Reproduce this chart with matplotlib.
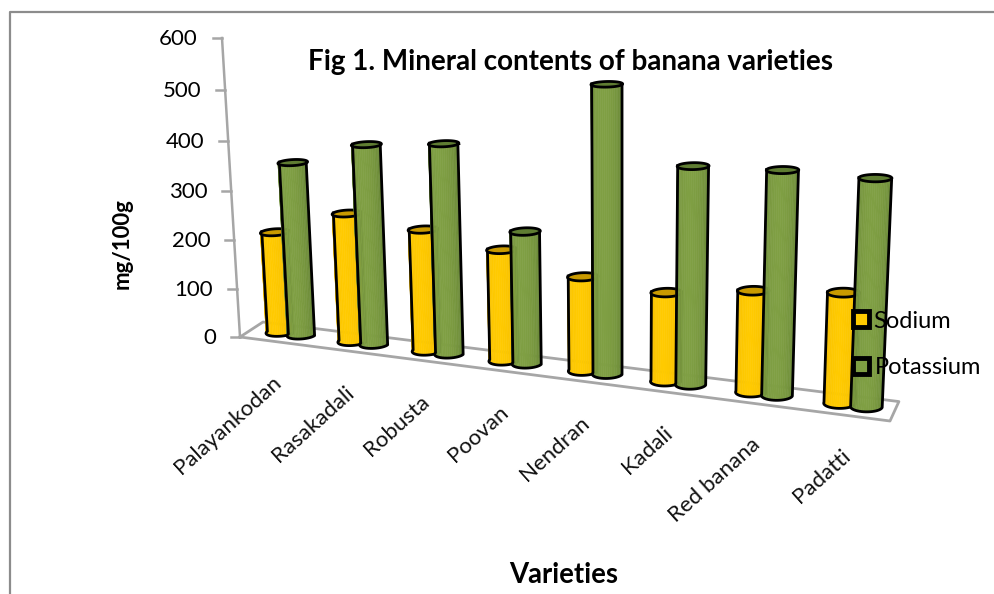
import numpy as np
import matplotlib
matplotlib.use('Agg')
import matplotlib.pyplot as plt
from matplotlib.collections import PolyCollection

varieties = ['Palayankodan', 'Rasakadali', 'Robusta', 'Poovan', 'Nendran', 'Kadali', 'Red banana', 'Padatti']
sodium = [208, 261, 244, 220, 184, 171, 192, 206]
potassium = [353, 401, 415, 260, 548, 411, 417, 416]
value_ticks = [0, 100, 200, 300, 400, 500, 600]
series = [('Sodium', sodium, '#e3a900', '#ffca00', '#c99a00'),
          ('Potassium', potassium, '#5c7a30', '#7f9f43', '#5f7d32')]

plt.rcParams['font.family'] = ['Lato', 'DejaVu Sans']

# corners of the chart box on the page
x00, y00 = 240, 337
x10, y10 = 890, 421
x01, y01 = 263, 322
xtop, ytop = 222, 38
p, q, r = -0.13, 0.024, -0.045

a1, a2, a3 = x10*(1+p)-x00, x01*(1+q)-x00, xtop*(1+r)-x00
b1, b2, b3 = y10*(1+p)-y00, y01*(1+q)-y00, ytop*(1+r)-y00


def project(u, v, val):
	z = np.asarray(val, dtype=float)/600.0
	w = p*u+q*v+r*z+1
	return (a1*u+a2*v+a3*z+x00)/w, (b1*u+b2*v+b3*z+y00)/w


def shade(c1, c2, t):
	c1 = np.array(matplotlib.colors.to_rgb(c1))
	c2 = np.array(matplotlib.colors.to_rgb(c2))
	return c1+(c2-c1)*t


def cylinder(ax, u, val, edge_col, mid_col, top_col, zo):
	rx, ry, tilt = 0.021, 0.27, 0.05
	th = np.linspace(0, np.pi, 25)
	# front half of the round, left side to right side
	cu, cv = u-rx*np.cos(th), 0.55-ry*np.sin(th)-tilt*np.cos(th)
	bx, by = project(cu, cv, 0)
	tx, ty = project(cu, cv, val)
	strips, cols = [], []
	for i in range(len(th)-1):
		strips.append([(bx[i], by[i]), (bx[i+1], by[i+1]), (tx[i+1], ty[i+1]), (tx[i], ty[i])])
		cols.append(shade(edge_col, mid_col, np.sin(th[i])**0.7))
	ax.add_collection(PolyCollection(strips, facecolors=cols, edgecolors=cols, linewidths=0.4, zorder=zo))
	ax.plot(np.r_[tx[0], bx, tx[-1]], np.r_[ty[0], by, ty[-1]], color='black', lw=2, zorder=zo+0.1)
	full = np.linspace(0, 2*np.pi, 60)
	ex, ey = project(u+rx*np.cos(full), 0.55+ry*np.sin(full)+tilt*np.cos(full), val)
	ax.fill(ex, ey, facecolor=top_col, edgecolor='black', lw=2, zorder=zo+0.2)


fig = plt.figure(figsize=(9.94, 5.94), dpi=100)
ax = fig.add_axes([0, 0, 1, 1])
ax.set_xlim(0, 994)
ax.set_ylim(594, 0)
ax.axis('off')

# outer frame
ax.plot([10, 10, 994], [594, 12, 12], color='#8c8c8c', lw=1.6)

# floor and value axis
grey = '#a6a6a6'
fx, fy = project(np.array([0, 1, 1, 0, 0]), np.array([0, 0, 1, 1, 0]), 0)
ax.plot(fx, fy, color=grey, lw=2, zorder=1)
ax.plot([x00, xtop], [y00, ytop], color=grey, lw=1.8, zorder=1)
for val in value_ticks:
	tx, ty = project(0, 0, val)
	ax.plot([tx-9, tx], [ty, ty], color=grey, lw=1.8, zorder=1)
	ax.text(tx-24, ty+1, str(val), ha='right', va='center', fontsize=16, color='black')

n = len(varieties)
for i in range(n):
	u = (i+0.5)/n+0.005
	for j, (name, vals, edge_col, mid_col, top_col) in enumerate(series):
		cylinder(ax, u+(j-0.5)*0.037, vals[i], edge_col, mid_col, top_col, 3+i+j*0.5)
	lx, ly = project(u, 0, 0)
	ax.annotate(varieties[i], (lx, ly), xytext=(-5, -22), textcoords='offset points', ha='right', va='top',
		rotation=42, rotation_mode='anchor', fontsize=16, color='#111111')

ax.text(571, 62, 'Fig 1. Mineral contents of banana varieties', ha='center', va='center',
	fontsize=20, fontweight='bold', zorder=20)
ax.text(122, 244, 'mg/100g', rotation=90, ha='center', va='center', fontsize=16, fontweight='bold')
ax.text(564, 575, 'Varieties', ha='center', va='center', fontsize=19.8, fontweight='bold')

# legend
for (name, vals, edge_col, mid_col, top_col), ly, tx in zip(series, [319, 366], [873, 875]):
	ax.plot([861], [ly], marker='s', ms=12, mfc=mid_col, mec='black', mew=3.5, zorder=30)
	ax.text(tx, ly+2, name, ha='left', va='center', fontsize=17, zorder=30)

fig.savefig('out.png', dpi=100)
